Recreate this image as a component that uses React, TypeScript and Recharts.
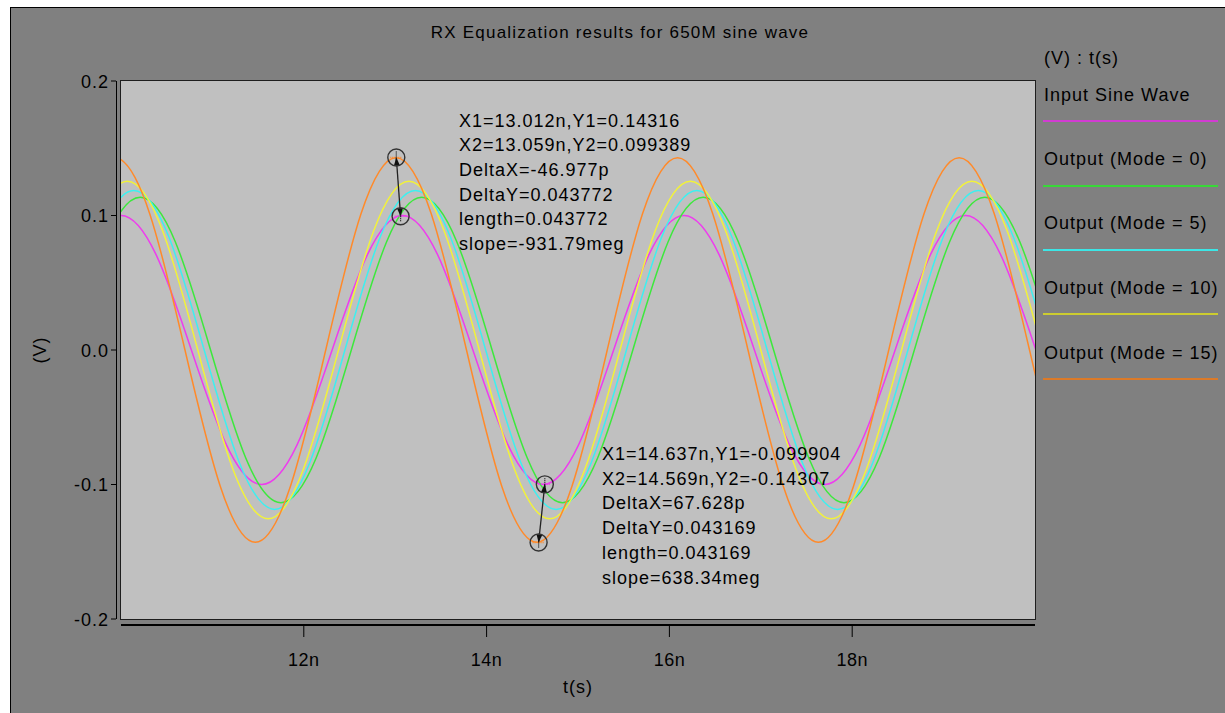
import React from "react";
import { LineChart, Line, XAxis, YAxis, ReferenceDot, ReferenceLine } from "recharts";

// samples taken every 1/8 period (T = 3.08ns)
const inputTimes = [9.23, 9.615, 10.0, 10.385, 10.77, 11.155, 11.54, 11.925, 12.31, 12.695, 13.08, 13.465, 13.85, 14.235, 14.62, 15.005, 15.39, 15.775, 16.16, 16.545, 16.93, 17.315, 17.7, 18.085, 18.47, 18.855, 19.24, 19.625, 20.01];
const inputVolts = [0, 0.0707, 0.1, 0.0707, 0, -0.0707, -0.1, -0.0707, 0, 0.0707, 0.1, 0.0707, 0, -0.0707, -0.1, -0.0707, 0, 0.0707, 0.1, 0.0707, 0, -0.0707, -0.1, -0.0707, 0, 0.0707, 0.1, 0.0707, 0];

const mode0Times = [9.44, 9.825, 10.21, 10.595, 10.98, 11.365, 11.75, 12.135, 12.52, 12.905, 13.29, 13.675, 14.06, 14.445, 14.83, 15.215, 15.6, 15.985, 16.37, 16.755, 17.14, 17.525, 17.91, 18.295, 18.68, 19.065, 19.45, 19.835, 20.22];
const mode0Volts = [0, 0.0803, 0.1135, 0.0803, 0, -0.0803, -0.1135, -0.0803, 0, 0.0803, 0.1135, 0.0803, 0, -0.0803, -0.1135, -0.0803, 0, 0.0803, 0.1135, 0.0803, 0, -0.0803, -0.1135, -0.0803, 0, 0.0803, 0.1135, 0.0803, 0];

const mode5Times = [9.37, 9.755, 10.14, 10.525, 10.91, 11.295, 11.68, 12.065, 12.45, 12.835, 13.22, 13.605, 13.99, 14.375, 14.76, 15.145, 15.53, 15.915, 16.3, 16.685, 17.07, 17.455, 17.84, 18.225, 18.61, 18.995, 19.38, 19.765, 20.15];
const mode5Volts = [0, 0.0838, 0.1185, 0.0838, 0, -0.0838, -0.1185, -0.0838, 0, 0.0838, 0.1185, 0.0838, 0, -0.0838, -0.1185, -0.0838, 0, 0.0838, 0.1185, 0.0838, 0, -0.0838, -0.1185, -0.0838, 0, 0.0838, 0.1185, 0.0838, 0];

const mode10Times = [9.3, 9.685, 10.07, 10.455, 10.84, 11.225, 11.61, 11.995, 12.38, 12.765, 13.15, 13.535, 13.92, 14.305, 14.69, 15.075, 15.46, 15.845, 16.23, 16.615, 17.0, 17.385, 17.77, 18.155, 18.54, 18.925, 19.31, 19.695, 20.08];
const mode10Volts = [0, 0.0887, 0.1255, 0.0887, 0, -0.0887, -0.1255, -0.0887, 0, 0.0887, 0.1255, 0.0887, 0, -0.0887, -0.1255, -0.0887, 0, 0.0887, 0.1255, 0.0887, 0, -0.0887, -0.1255, -0.0887, 0, 0.0887, 0.1255, 0.0887, 0];

const mode15Times = [9.16, 9.545, 9.93, 10.315, 10.7, 11.085, 11.47, 11.855, 12.24, 12.625, 13.01, 13.395, 13.78, 14.165, 14.55, 14.935, 15.32, 15.705, 16.09, 16.475, 16.86, 17.245, 17.63, 18.015, 18.4, 18.785, 19.17, 19.555, 19.94, 20.325, 20.71, 21.095, 21.48];
const mode15Volts = [0, 0.1011, 0.143, 0.1011, 0, -0.1011, -0.143, -0.1011, 0, 0.1011, 0.143, 0.1011, 0, -0.1011, -0.143, -0.1011, 0, 0.1011, 0.143, 0.1011, 0, -0.1011, -0.143, -0.1011, 0, 0.1011, 0.143, 0.1011, 0, -0.1011, -0.143, -0.1011, 0];

const xTicks = [12, 14, 16, 18];
const yTicks = [-0.2, -0.1, 0, 0.1, 0.2];

// marker pairs (X1/Y1 then X2/Y2)
const cursor1X = [13.012, 13.059];
const cursor1Y = [0.14316, 0.099389];
const cursor2X = [14.637, 14.569];
const cursor2Y = [-0.099904, -0.14307];

const cursor1Text = [
  "X1=13.012n,Y1=0.14316",
  "X2=13.059n,Y2=0.099389",
  "DeltaX=-46.977p",
  "DeltaY=0.043772",
  "length=0.043772",
  "slope=-931.79meg",
];
const cursor2Text = [
  "X1=14.637n,Y1=-0.099904",
  "X2=14.569n,Y2=-0.14307",
  "DeltaX=67.628p",
  "DeltaY=0.043169",
  "length=0.043169",
  "slope=638.34meg",
];

const MAGENTA = "#ee3cee";
const GREEN = "#3ce83c";
const CYAN = "#3cf0f0";
const YELLOW = "#f2f23a";
const ORANGE = "#ff8a2a";

const series = [
  { name: "Input Sine Wave", color: MAGENTA, key: "#d23cd2", times: inputTimes, volts: inputVolts },
  { name: "Output (Mode = 0)", color: GREEN, key: "#38d838", times: mode0Times, volts: mode0Volts },
  { name: "Output (Mode = 5)", color: CYAN, key: "#3ce6e6", times: mode5Times, volts: mode5Volts },
  { name: "Output (Mode = 10)", color: YELLOW, key: "#cccc30", times: mode10Times, volts: mode10Volts },
  { name: "Output (Mode = 15)", color: ORANGE, key: "#dc7a28", times: mode15Times, volts: mode15Volts },
];

const legendTextY = [95, 159, 223, 288, 353];
const legendLineY = [120, 185, 249, 313, 378];

const FONT = '"Liberation Sans", Arial, Helvetica, sans-serif';
const INK = "#000";

function Label({ x, y, text, size = 18, center = false, spacing = 1 }: any) {
  const style: React.CSSProperties = {
    position: "absolute",
    top: y - size / 2,
    left: center ? x - 300 : x,
    width: center ? 600 : undefined,
    textAlign: center ? "center" : "left",
    fontSize: size,
    lineHeight: `${size}px`,
    letterSpacing: spacing,
    whiteSpace: "pre",
    color: INK,
  };
  return <div style={style}>{text}</div>;
}

function YTick({ x, y, payload }: any) {
  return (
    <g>
      <line x1={x + 3} x2={x + 8} y1={y} y2={y} stroke="#000" />
      <text x={x + 1} y={y + 6.5} textAnchor="end" fontSize={18} fill={INK} letterSpacing={1} fontFamily={FONT}>
        {payload.value.toFixed(1)}
      </text>
    </g>
  );
}

function XTick({ x, y, payload }: any) {
  return (
    <g>
      <line x1={x} x2={x} y1={y - 12} y2={y} stroke="#000" />
      <text x={x} y={y + 28.5} textAnchor="middle" fontSize={18} fill={INK} letterSpacing={0.5} fontFamily={FONT}>
        {`${payload.value}n`}
      </text>
    </g>
  );
}

function CursorMark({ cx, cy, color }: any) {
  return (
    <g>
      <circle cx={cx} cy={cy} r={8.5} fill="none" stroke="#333" strokeWidth={1.4} />
      <line x1={cx - 6} x2={cx + 6} y1={cy} y2={cy} stroke={color} strokeWidth={1.5} strokeDasharray="1 1" />
      <line x1={cx} x2={cx} y1={cy - 6} y2={cy + 6} stroke="#111" strokeWidth={1.2} strokeDasharray="1 1" />
    </g>
  );
}

function ArrowLink(props: any) {
  const { x1, y1, x2, y2 } = props;
  const len = Math.hypot(x2 - x1, y2 - y1) || 1;
  const ux = (x2 - x1) / len;
  const uy = (y2 - y1) / len;
  const head = (tx: number, ty: number, dx: number, dy: number) => {
    const bx = tx - dx * 8;
    const by = ty - dy * 8;
    return `${tx},${ty} ${bx - dy * 3},${by + dx * 3} ${bx + dy * 3},${by - dx * 3}`;
  };
  return (
    <g>
      <line x1={x1} y1={y1} x2={x2} y2={y2} stroke="#222" strokeWidth={1.3} />
      <polygon points={head(x1, y1, -ux, -uy)} fill="#111" />
      <polygon points={head(x2, y2, ux, uy)} fill="#111" />
    </g>
  );
}

export default function App() {
  return (
    <div style={{ position: "absolute", left: 0, top: 0, width: 1225, height: 713, background: "#fff", overflow: "hidden", fontFamily: FONT }}>
      <div style={{ position: "absolute", left: 10, top: 7, right: 0, bottom: 0, background: "#808080", borderTop: "1px solid #000", borderLeft: "1px solid #000" }} />
      <div style={{ position: "absolute", left: 120, top: 80, width: 916, height: 540, boxSizing: "border-box", border: "1px solid #1e1e1e", background: "#c0c0c0" }} />

      <div style={{ position: "absolute", left: 0, top: 0 }}>
        <LineChart width={1225} height={713} margin={{ top: 81, right: 190, bottom: 0, left: 0 }}>
          <XAxis
            type="number"
            dataKey="t"
            domain={[10, 20]}
            ticks={xTicks}
            interval={0}
            allowDataOverflow
            height={94}
            tickSize={18}
            tickMargin={0}
            tickLine={false}
            axisLine={{ stroke: "#000", strokeWidth: 2, transform: "translate(0 6)" }}
            tick={(p: any) => <XTick {...p} />}
          />
          <YAxis
            type="number"
            domain={[-0.2, 0.2]}
            ticks={yTicks}
            interval={0}
            allowDataOverflow
            width={121}
            tickSize={13}
            tickMargin={0}
            tickLine={false}
            axisLine={{ stroke: "#000", transform: "translate(-4.5 0)" }}
            tick={(p: any) => <YTick {...p} />}
          />
          {series.map((s) => (
            <Line
              key={s.name}
              data={s.times.map((t, i) => ({ t, v: s.volts[i] }))}
              dataKey="v"
              name={s.name}
              type="natural"
              stroke={s.color}
              strokeWidth={1.5}
              dot={false}
              activeDot={false}
              isAnimationActive={false}
            />
          ))}
          <ReferenceLine
            segment={[{ x: cursor1X[0], y: cursor1Y[0] }, { x: cursor1X[1], y: cursor1Y[1] }]}
            shape={(p: any) => <ArrowLink {...p} />}
          />
          <ReferenceLine
            segment={[{ x: cursor2X[0], y: cursor2Y[0] }, { x: cursor2X[1], y: cursor2Y[1] }]}
            shape={(p: any) => <ArrowLink {...p} />}
          />
          <ReferenceDot x={cursor1X[0]} y={cursor1Y[0]} shape={(p: any) => <CursorMark {...p} color={ORANGE} />} />
          <ReferenceDot x={cursor1X[1]} y={cursor1Y[1]} shape={(p: any) => <CursorMark {...p} color={MAGENTA} />} />
          <ReferenceDot x={cursor2X[0]} y={cursor2Y[0]} shape={(p: any) => <CursorMark {...p} color={MAGENTA} />} />
          <ReferenceDot x={cursor2X[1]} y={cursor2Y[1]} shape={(p: any) => <CursorMark {...p} color={ORANGE} />} />
        </LineChart>
      </div>

      <Label x={620} y={32} text="RX Equalization results for 650M sine wave" size={17} spacing={1.2} center />
      <Label x={578} y={687} text="t(s)" center />
      <div style={{ position: "absolute", left: -10, top: 341, width: 100, textAlign: "center", fontSize: 18, lineHeight: "18px", letterSpacing: 1, color: INK, transform: "rotate(-90deg)" }}>
        (V)
      </div>

      {cursor1Text.map((line, i) => (
        <Label key={line} x={459} y={120.5 + i * 24.7} text={line} />
      ))}
      {cursor2Text.map((line, i) => (
        <Label key={line} x={602} y={454 + i * 24.7} text={line} />
      ))}

      <Label x={1044} y={58} text="(V) : t(s)" />
      {series.map((s, i) => (
        <React.Fragment key={s.name}>
          <Label x={1044} y={legendTextY[i]} text={s.name} />
          <div style={{ position: "absolute", left: 1043, top: legendLineY[i], width: 175, height: 1.5, background: s.key }} />
        </React.Fragment>
      ))}
    </div>
  );
}
